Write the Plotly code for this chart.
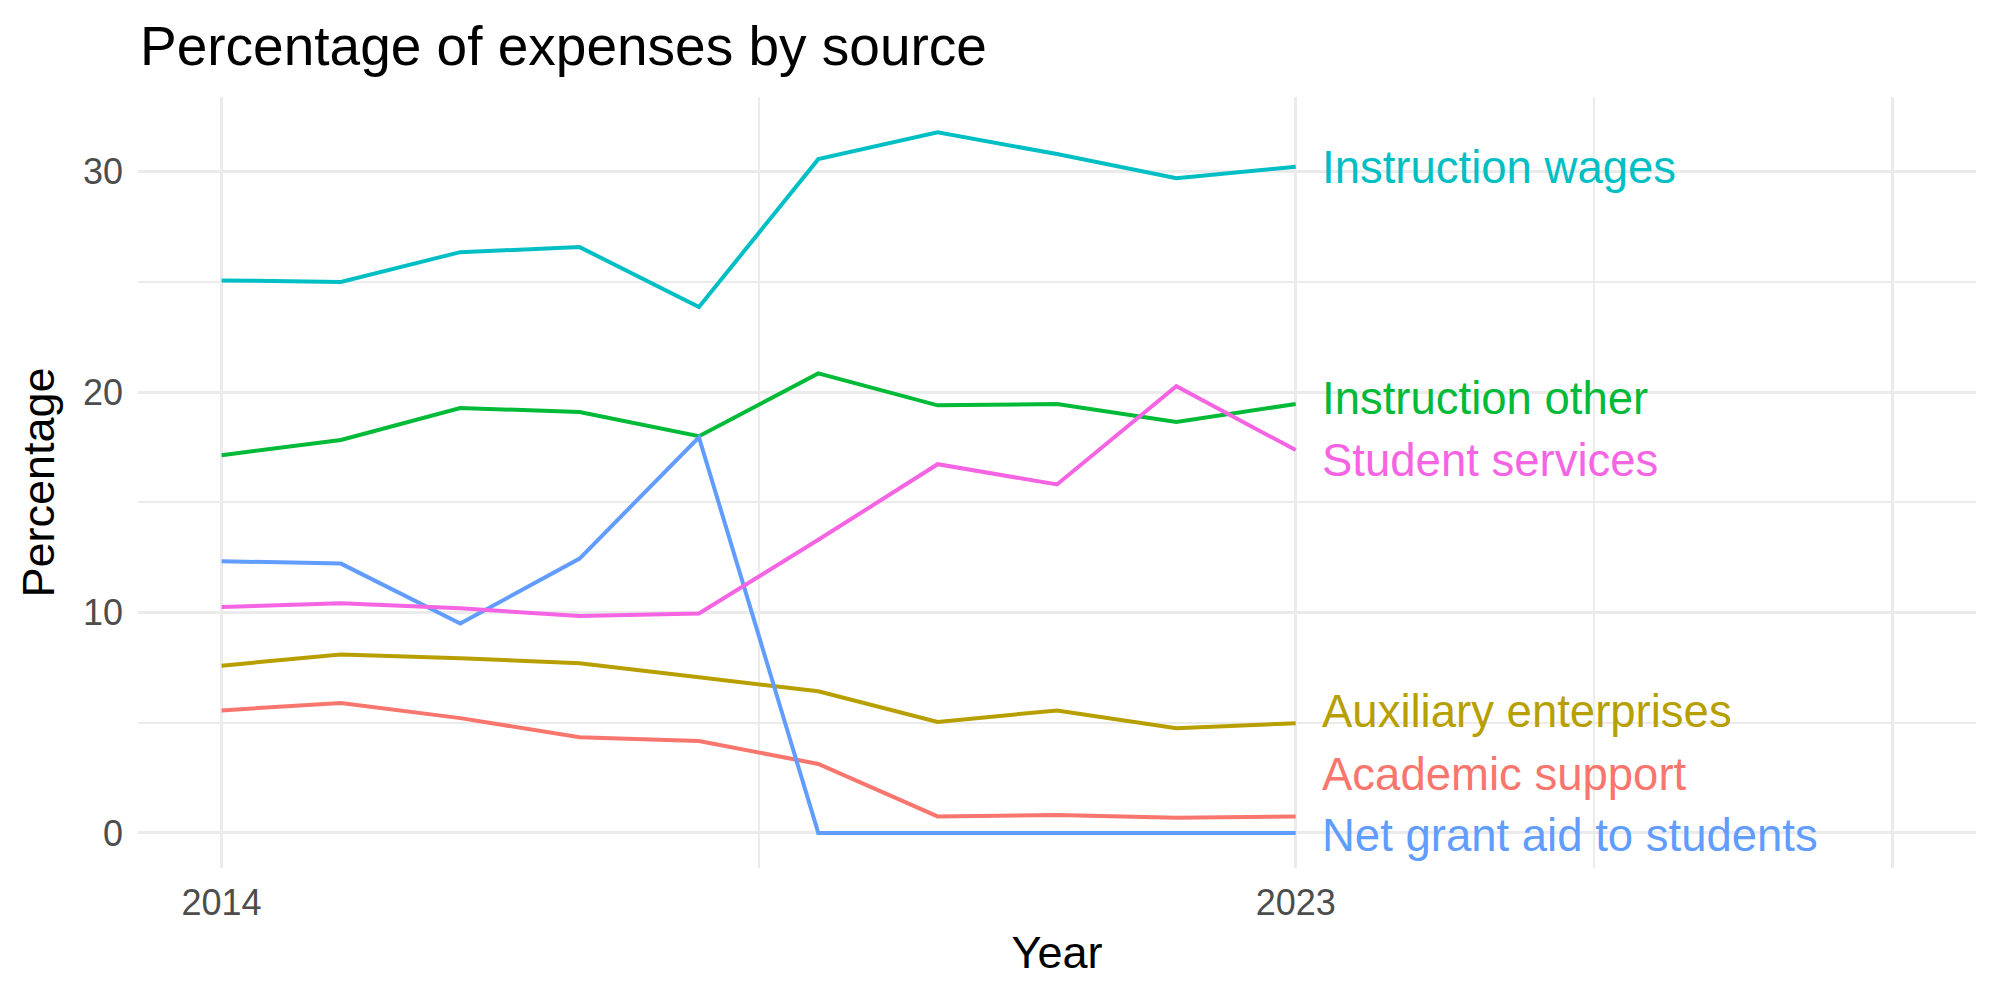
import plotly.graph_objects as go

years = [2014, 2015, 2016, 2017, 2018, 2019, 2020, 2021, 2022, 2023]

series_names = ["Academic support", "Auxiliary enterprises", "Instruction other",
                "Instruction wages", "Net grant aid to students", "Student services"]
academic_support = [5.56, 5.90, 5.21, 4.34, 4.17, 3.13, 0.75, 0.81, 0.69, 0.75]
auxiliary_enterprises = [7.59, 8.10, 7.93, 7.70, 7.06, 6.43, 5.04, 5.56, 4.75, 4.98]
instruction_other = [17.14, 17.83, 19.28, 19.10, 18.00, 20.85, 19.40, 19.46, 18.65, 19.46]
instruction_wages = [25.07, 25.00, 26.35, 26.58, 23.86, 30.57, 31.79, 30.80, 29.70, 30.23]
net_grant_aid = [12.33, 12.22, 9.50, 12.45, 17.95, 0.0, 0.0, 0.0, 0.0, 0.0]
student_services = [10.25, 10.42, 10.19, 9.84, 9.96, 13.30, 16.73, 15.81, 20.27, 17.37]

colors = ["#F8766D", "#B79F00", "#00BA38", "#00BFC4", "#619CFF", "#F564E3"]
# repelled label positions (y, data units)
label_y = [2.66, 5.5, 19.7, 30.2, -0.12, 16.9]

values = [academic_support, auxiliary_enterprises, instruction_other,
          instruction_wages, net_grant_aid, student_services]

fig = go.Figure()
for name, vals, col in zip(series_names, values, colors):
    fig.add_trace(go.Scatter(x=years, y=vals, mode="lines", name=name,
                             line=dict(color=col, width=4), showlegend=False))

for name, ly, col in zip(series_names, label_y, colors):
    fig.add_annotation(x=years[-1] + 0.2, y=ly, text=name, showarrow=False,
                       xanchor="left", yanchor="middle",
                       font=dict(family="Liberation Sans, Arial", size=45.5, color=col))

grid_major = "#EBEBEB"
fig.update_layout(
    width=2000, height=1000,
    margin=dict(l=138, r=24, t=97, b=132),
    paper_bgcolor="white", plot_bgcolor="white",
    font=dict(family="Liberation Sans, Arial", color="#000000"),
    title=dict(text="Percentage of expenses by source", x=0.07, xanchor="left",
               y=0.954, yanchor="middle", font=dict(size=55, color="#000000")),
    xaxis=dict(
        range=[2013.3, 2028.7], tickvals=[2014, 2023, 2028], ticktext=["2014", "2023", ""],
        showgrid=True, gridcolor=grid_major, gridwidth=3, zeroline=False,
        showline=False, ticks="", tickfont=dict(size=36, color="#4D4D4D"),
        title=dict(text="Year", font=dict(size=45, color="#000000"), standoff=14),
        minor=dict(tickvals=[2018.5, 2025.5], showgrid=True, gridcolor=grid_major, gridwidth=2),
    ),
    yaxis=dict(
        range=[-1.59, 33.39], tickvals=[0, 10, 20, 30],
        showgrid=True, gridcolor=grid_major, gridwidth=3, zeroline=False,
        showline=False, ticks="", tickfont=dict(size=36, color="#4D4D4D"),
        title=dict(text="Percentage", font=dict(size=45, color="#000000"), standoff=14),
        minor=dict(tickvals=[5, 15, 25], showgrid=True, gridcolor=grid_major, gridwidth=2),
    ),
)
fig.update_xaxes(ticklabelstandoff=10)
fig.update_yaxes(ticklabelstandoff=14)

fig.write_html("out.html")
